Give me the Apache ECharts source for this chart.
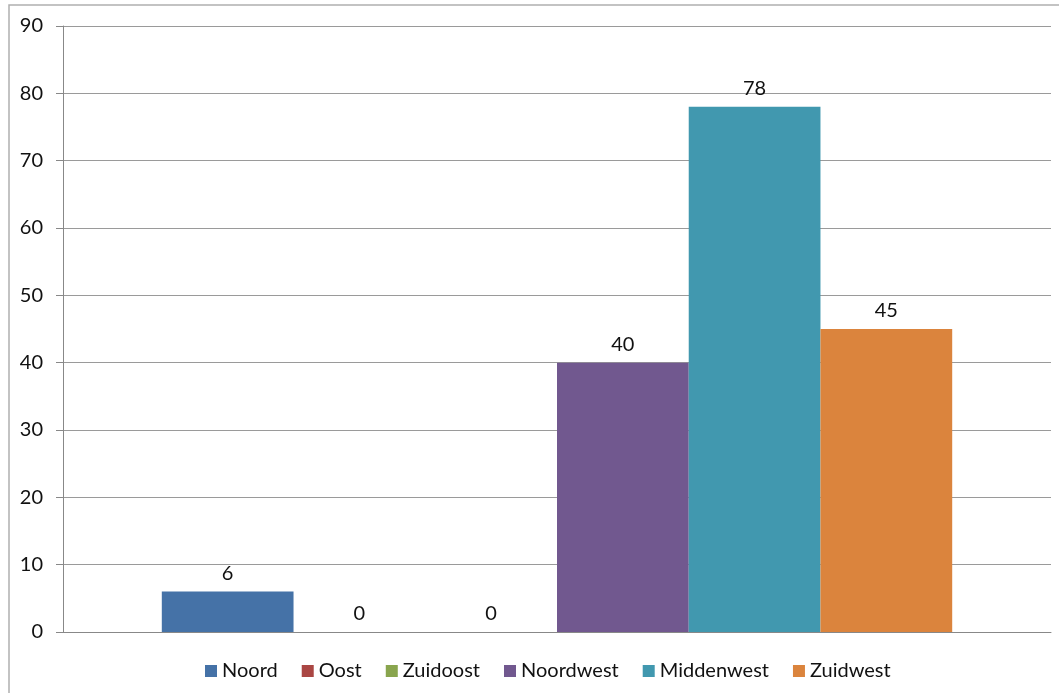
<!DOCTYPE html>
<html><head><meta charset="utf-8">
<script src="https://cdn.jsdelivr.net/npm/echarts@6/dist/echarts.min.js"></script>
<style>html,body{margin:0;padding:0;background:#fff}#c{width:1059px;height:693px}</style>
</head><body><div id="c"></div>
<script>
const categories = [''];
const seriesNames = ['Noord', 'Oost', 'Zuidoost', 'Noordwest', 'Middenwest', 'Zuidwest'];
const seriesValues = [6, 0, 0, 40, 78, 45];
const seriesColors = ['#4572a7', '#aa4643', '#89a54e', '#71588f', '#4198af', '#db843d'];
const yTicks = [0, 10, 20, 30, 40, 50, 60, 70, 80, 90];

const FONT = 'Lato, "Open Sans", sans-serif';
const chart = echarts.init(document.getElementById('c'));
chart.setOption({
  animation: false,
  textStyle: { fontFamily: FONT },
  graphic: [{
    type: 'rect', silent: true, z: -1,
    shape: { x: 9, y: 5, width: 1100, height: 750 },
    style: { fill: 'none', stroke: '#b0b0b0', lineWidth: 1.5 }
  }],
  grid: { left: 63, right: 8, top: 26, bottom: 61 },
  legend: {
    bottom: 12, left: 205, itemWidth: 12, itemHeight: 12, itemGap: 24,
    icon: 'rect', padding: 0,
    textStyle: { fontSize: 20, color: '#111', fontFamily: FONT },
    data: seriesNames
  },
  xAxis: {
    type: 'category', data: categories,
    axisLine: { lineStyle: { color: '#888' } },
    axisTick: { show: false }, axisLabel: { show: false }
  },
  yAxis: {
    type: 'value', min: yTicks[0], max: yTicks[yTicks.length - 1], interval: 10,
    axisLine: { show: true, lineStyle: { color: '#888' } },
    axisTick: { show: true, length: 7, lineStyle: { color: '#888' } },
    axisLabel: { fontSize: 20, color: '#111', margin: 20, fontFamily: FONT },
    splitLine: { lineStyle: { color: '#9a9a9a' } }
  },
  series: seriesNames.map((n, i) => ({
    name: n, type: 'bar', data: [seriesValues[i]],
    barGap: '0%', barCategoryGap: '20%',
    itemStyle: { color: seriesColors[i] },
    label: { show: true, position: 'top', distance: 8, fontSize: 20, color: '#111', fontFamily: FONT }
  }))
});
</script></body></html>
